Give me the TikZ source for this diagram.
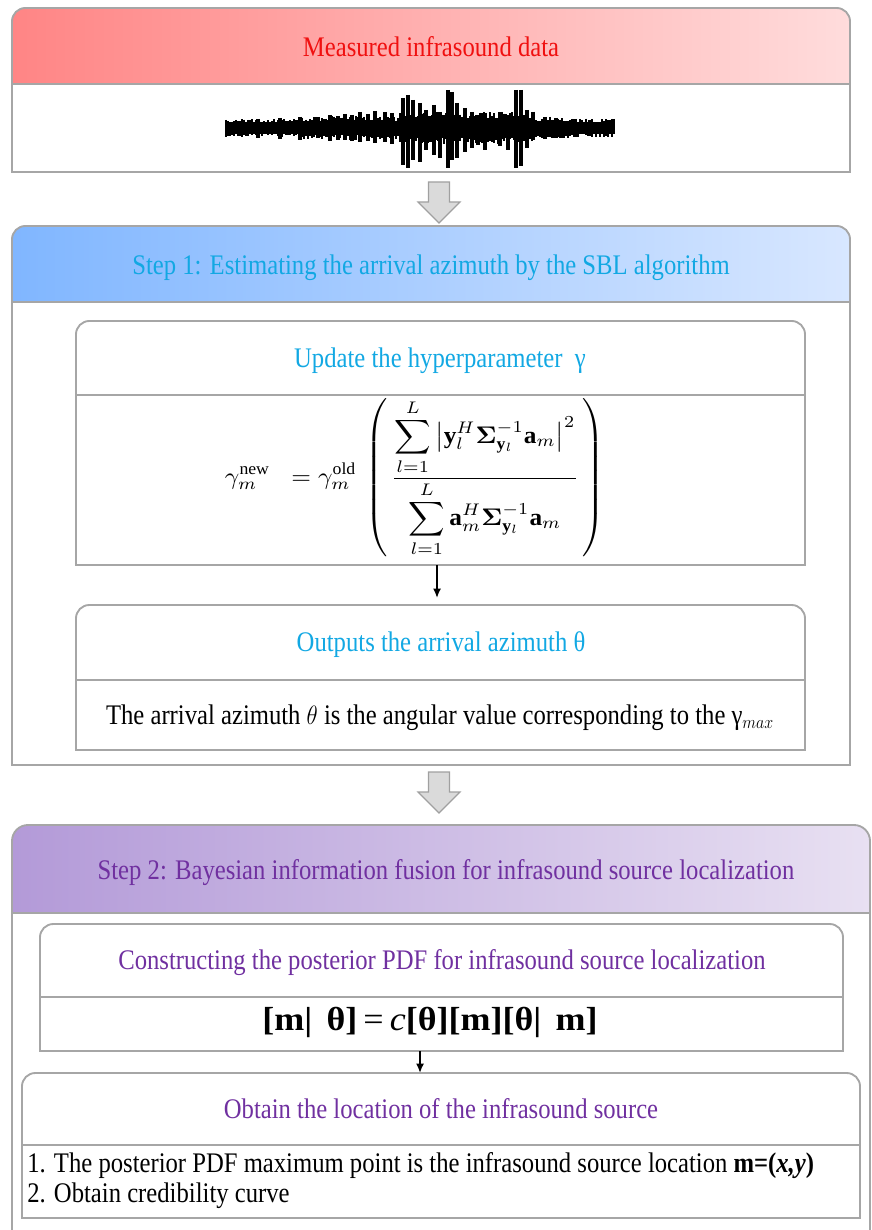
\documentclass[tikz,border=0pt]{standalone}
\usepackage{amsmath,bm}
\usepackage{fontspec}
\setmainfont{Liberation Serif}
\usetikzlibrary{arrows.meta,calc}
\definecolor{bgray}{HTML}{A6A6A6}
\definecolor{redL}{HTML}{FF8585}
\definecolor{redR}{HTML}{FFDCDC}
\definecolor{blueL}{HTML}{80B6FF}
\definecolor{blueR}{HTML}{D8E7FF}
\definecolor{purL}{HTML}{B39AD8}
\definecolor{purR}{HTML}{E8E0F2}
\definecolor{txred}{HTML}{F01010}
\definecolor{txblue}{HTML}{12A8E3}
\definecolor{txpur}{HTML}{7030A0}
\definecolor{arrfill}{HTML}{DADADA}
\definecolor{arrdraw}{HTML}{A0A0A0}
\newcommand\tx[1]{\scalebox{1}[1.15]{#1}}
\tikzset{
  boxline/.style={draw=bgray, line width=1.4pt},
  divline/.style={draw=bgray, line width=2pt},
  label/.style={inner sep=0pt, font=\fontsize{18.5}{22}\selectfont},
  blockarrow/.style={fill=arrfill, draw=arrdraw, line width=0.9pt, line join=miter},
  smallarrow/.style={draw=black, line width=1.3pt, -{Latex[length=7pt,width=6pt]}},
  wave/.style={line width=1.9pt, black},
  spike/.style={line width=3.4pt, black},
}
\begin{document}
\begin{tikzpicture}[x=0.75pt,y=-0.75pt]
\useasboundingbox (0,0) rectangle (871,1230);
\clip (0,0) rectangle (871,1230);

% ---------------- Box 1 ----------------
\shade[left color=redL, right color=redR] (12,84) [rounded corners=10pt] -- (12,8) -- (850,8) [sharp corners] -- (850,84) -- cycle;
\draw[divline] (12,84) -- (850,84);
\draw[boxline] (12,172) [rounded corners=10pt] -- (12,8) -- (850,8) [sharp corners] -- (850,172) -- cycle;
\node[label, text=txred] (t1) at (431,47) {\tx{Measured infrasound data}};

% waveform
\pgfmathsetseed{11}
\foreach \x in {226,228,...,614}{
  \pgfmathsetmacro\env{(\x<300) ? 7.5 : ((\x<400) ? 9.5 : ((\x<535) ? 13 : ((\x<570) ? 9 : 7.5)))}
  \pgfmathsetmacro\up{\env*(0.75+0.5*rnd)}
  \pgfmathsetmacro\dn{\env*(0.75+0.5*rnd)}
  \draw[wave] (\x,128-\up) -- (\x,128+\dn);
}
\foreach \x/\a/\b in {
  258/119/138, 280/118/139, 300/117/140, 318/117/138, 330/115/141, 338/116/140, 345/114/140,
  352/115/141, 360/112/142, 368/114/141, 375/111/143, 385/112/142, 392/113/144,
  403/98/165, 408/95/168, 413/100/160, 420/103/162, 426/110/150, 434/105/155, 440/112/158,
  448/90/168, 452/92/160, 457/103/158, 465/108/152, 472/112/148, 478/115/145, 485/113/150,
  493/116/142, 500/112/146, 508/115/150, 516/90/168, 521/90/166, 527/110/148, 533/112/140,
  545/117/139, 556/118/138, 575/119/137, 590/120/136}{
  \draw[spike] (\x,\a) -- (\x,\b);
}

% block arrow 1
\coordinate (a1) at (439,182);
\draw[blockarrow] ($(a1)+(-10.5,0)$) -- ($(a1)+(10.5,0)$) -- ($(a1)+(10.5,20)$) -- ($(a1)+(21,20)$)
  -- ($(a1)+(0,41)$) -- ($(a1)+(-21,20)$) -- ($(a1)+(-10.5,20)$) -- cycle;

% ---------------- Box 2 ----------------
\shade[left color=blueL, right color=blueR] (12,302) [rounded corners=10pt] -- (12,226) -- (850,226) [sharp corners] -- (850,302) -- cycle;
\draw[divline] (12,302) -- (850,302);
\draw[boxline] (12,765) [rounded corners=10pt] -- (12,226) -- (850,226) [sharp corners] -- (850,765) -- cycle;
\node[label, text=txblue] (t2) at (431,268) {\tx{Step 1: Estimating the arrival azimuth by the SBL algorithm}};

% inner box A
\draw[divline] (76,395) -- (805,395);
\draw[boxline] (76,565) [rounded corners=10pt] -- (76,321) -- (805,321) [sharp corners] -- (805,565) -- cycle;
\node[label, text=txblue] (tA) at (440,361) {\tx{Update the hyperparameter\ \ γ}};
\node[inner sep=0pt] (fA) at (415,478) {\scalebox{1.9}[1.8]{$\displaystyle
  \gamma_m^{\mathrm{new}}\;\;= \gamma_m^{\mathrm{old}}\,\left(\,\frac{\displaystyle\sum_{l=1}^{L}\left|\mathbf{y}_l^{H}\bm{\Sigma}_{\mathbf{y}_l}^{-1}\mathbf{a}_m\right|^2}{\displaystyle\sum_{l=1}^{L}\mathbf{a}_m^{H}\bm{\Sigma}_{\mathbf{y}_l}^{-1}\mathbf{a}_m}\,\right)$}};

\coordinate (Abot) at (437,565);
\coordinate (Btop) at (437,598);
\draw[smallarrow] (Abot) -- (Btop);

% inner box B
\draw[divline] (76,680) -- (805,680);
\draw[boxline] (76,750) [rounded corners=10pt] -- (76,605) -- (805,605) [sharp corners] -- (805,750) -- cycle;
\node[label, text=txblue] (tB) at (441,645) {\tx{Outputs the arrival azimuth θ}};
\node[label] (bB) at (440,718) {\tx{The arrival azimuth $\theta$ is the angular value corresponding to the γ$_{max}$}};

% block arrow 2
\coordinate (a2) at (439,772);
\draw[blockarrow] ($(a2)+(-10.5,0)$) -- ($(a2)+(10.5,0)$) -- ($(a2)+(10.5,20)$) -- ($(a2)+(21,20)$)
  -- ($(a2)+(0,41)$) -- ($(a2)+(-21,20)$) -- ($(a2)+(-10.5,20)$) -- cycle;

% ---------------- Box 3 ----------------
\shade[left color=purL, right color=purR] (12,913) [rounded corners=12pt] -- (12,825) -- (870,825) [sharp corners] -- (870,913) -- cycle;
\draw[divline] (12,913) -- (870,913);
\draw[boxline] (12,1240) [rounded corners=12pt] -- (12,825) -- (870,825) [sharp corners] -- (870,1240);
\node[label, text=txpur] (t3) at (446,873) {\tx{Step 2: Bayesian information fusion for infrasound source localization}};

% inner box C
\draw[divline] (40,997) -- (843,997);
\draw[boxline] (40,1051) [rounded corners=10pt] -- (40,924) -- (843,924) [sharp corners] -- (843,1051) -- cycle;
\node[label, text=txpur] (tC) at (442,963) {\tx{Constructing the posterior PDF for infrasound source localization}};
\node[inner sep=0pt] (fC) at (430,1022) {\fontsize{25}{29}\selectfont\scalebox{1.08}[1]{\textbf{[m|\hspace{0.4em}θ]}\,=\,\textit{c}\textbf{[θ][m][θ|\hspace{0.4em}m]}}};

\coordinate (Cbot) at (420,1051);
\coordinate (Dtop) at (420,1073);
\draw[smallarrow] (Cbot) -- (Dtop);

% inner box D
\draw[divline] (22,1145) -- (860,1145);
\draw[boxline] (22,1218) [rounded corners=10pt] -- (22,1073) -- (860,1073) [sharp corners] -- (860,1218) -- cycle;
\node[label, text=txpur] (tD) at (441,1109) {\tx{Obtain the location of the infrasound source}};
\node[label, anchor=west] (d1) at (27,1166) {\tx{1. The posterior PDF maximum point is the infrasound source location \textbf{m=(\textit{x,y})}}};
\node[label, anchor=west] (d2) at (27,1196) {\tx{2. Obtain credibility curve}};
\end{tikzpicture}
\end{document}
